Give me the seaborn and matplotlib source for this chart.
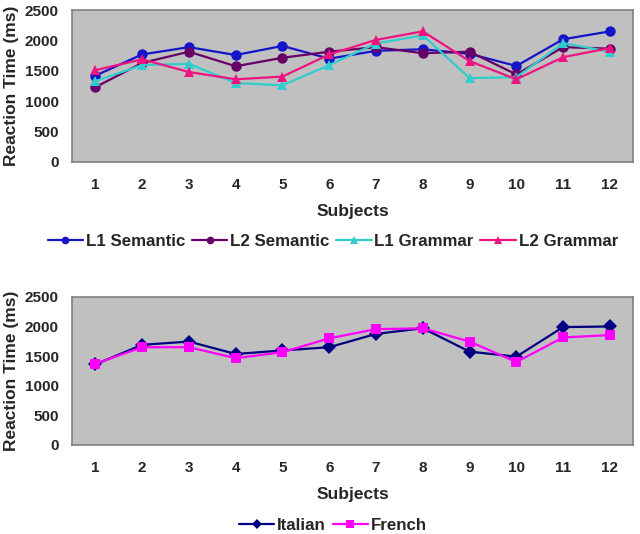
import matplotlib
matplotlib.use("Agg")
import matplotlib.pyplot as plt
import pandas as pd
import seaborn as sns

sns.set_theme(style="white")
plt.rcParams["font.family"] = ["Liberation Sans", "DejaVu Sans"]
plt.rcParams["font.weight"] = "bold"

subjects = list(range(1, 13))

l1_semantic = [1420, 1770, 1890, 1760, 1910, 1700, 1830, 1855, 1780, 1580, 2020, 2150]
l2_semantic = [1230, 1630, 1815, 1575, 1715, 1815, 1890, 1790, 1815, 1440, 1890, 1865]
l1_grammar = [1330, 1595, 1615, 1300, 1260, 1595, 1950, 2085, 1380, 1395, 1955, 1815]
l2_grammar = [1510, 1690, 1480, 1360, 1405, 1770, 2010, 2150, 1660, 1360, 1725, 1875]

italian = [1360, 1690, 1745, 1535, 1595, 1650, 1875, 1970, 1575, 1490, 1990, 2000]
french = [1370, 1650, 1650, 1465, 1565, 1800, 1955, 1970, 1745, 1400, 1815, 1855]

top_names = ["L1 Semantic", "L2 Semantic", "L1 Grammar", "L2 Grammar"]
top_colors = ["#1414c8", "#660066", "#33cccc", "#ee1480"]
top_markers = ["o", "o", "^", "^"]

bot_names = ["Italian", "French"]
bot_colors = ["#000080", "#ff00ff"]
bot_markers = ["D", "s"]


def long_df(names, series):
    frames = []
    for name, vals in zip(names, series):
        frames.append(pd.DataFrame({"Subject": subjects, "Time": vals, "Group": name}))
    return pd.concat(frames)


def draw(ax, df, names, colors, markers, msize, legend_y):
    sns.lineplot(
        data=df, x="Subject", y="Time", hue="Group", style="Group",
        palette=dict(zip(names, colors)), markers=dict(zip(names, markers)),
        dashes=False, markersize=msize, markeredgewidth=0, linewidth=1.6,
        ax=ax, legend=False,
    )
    ax.set_facecolor("#c0c0c0")
    for s in ax.spines.values():
        s.set_color("#808080")
        s.set_linewidth(1.2)
    ax.set_xlim(0.5, 12.5)
    ax.set_ylim(0, 2500)
    ax.set_xticks(subjects)
    ax.set_yticks(range(0, 2501, 500))
    ax.tick_params(axis="both", length=0, labelsize=11)
    ax.tick_params(axis="y", pad=9.5)
    ax.tick_params(axis="x", pad=12)
    ax.set_xlabel("Subjects", fontsize=12.5, fontweight="bold", labelpad=8)
    ax.set_ylabel("Reaction Time (ms)", fontsize=12.5, fontweight="bold", labelpad=4)
    for lab in ax.get_xticklabels() + ax.get_yticklabels():
        lab.set_fontweight("bold")
    handles = [
        plt.Line2D([], [], color=c, marker=m, markersize=5.5, linewidth=1.6, markeredgewidth=0)
        for c, m in zip(colors, markers)
    ]
    ax.figure.legend(handles, names, loc="center", bbox_to_anchor=(0.52, legend_y),
                     ncol=len(names), frameon=False, fontsize=12.2, handlelength=2.1,
                     handletextpad=0.15, columnspacing=0.4, borderpad=0)


fig = plt.figure(figsize=(6.4, 5.34), dpi=100)
ax1 = fig.add_axes([0.1125, 0.697, 0.877, 0.284])
ax2 = fig.add_axes([0.1125, 0.167, 0.877, 0.277])

draw(ax1, long_df(top_names, [l1_semantic, l2_semantic, l1_grammar, l2_grammar]),
     top_names, top_colors, top_markers, 7.5, 1 - 241 / 534)
draw(ax2, long_df(bot_names, [italian, french]), bot_names, bot_colors, bot_markers, 7,
     1 - 525 / 534)

fig.savefig("out.png", dpi=100)
